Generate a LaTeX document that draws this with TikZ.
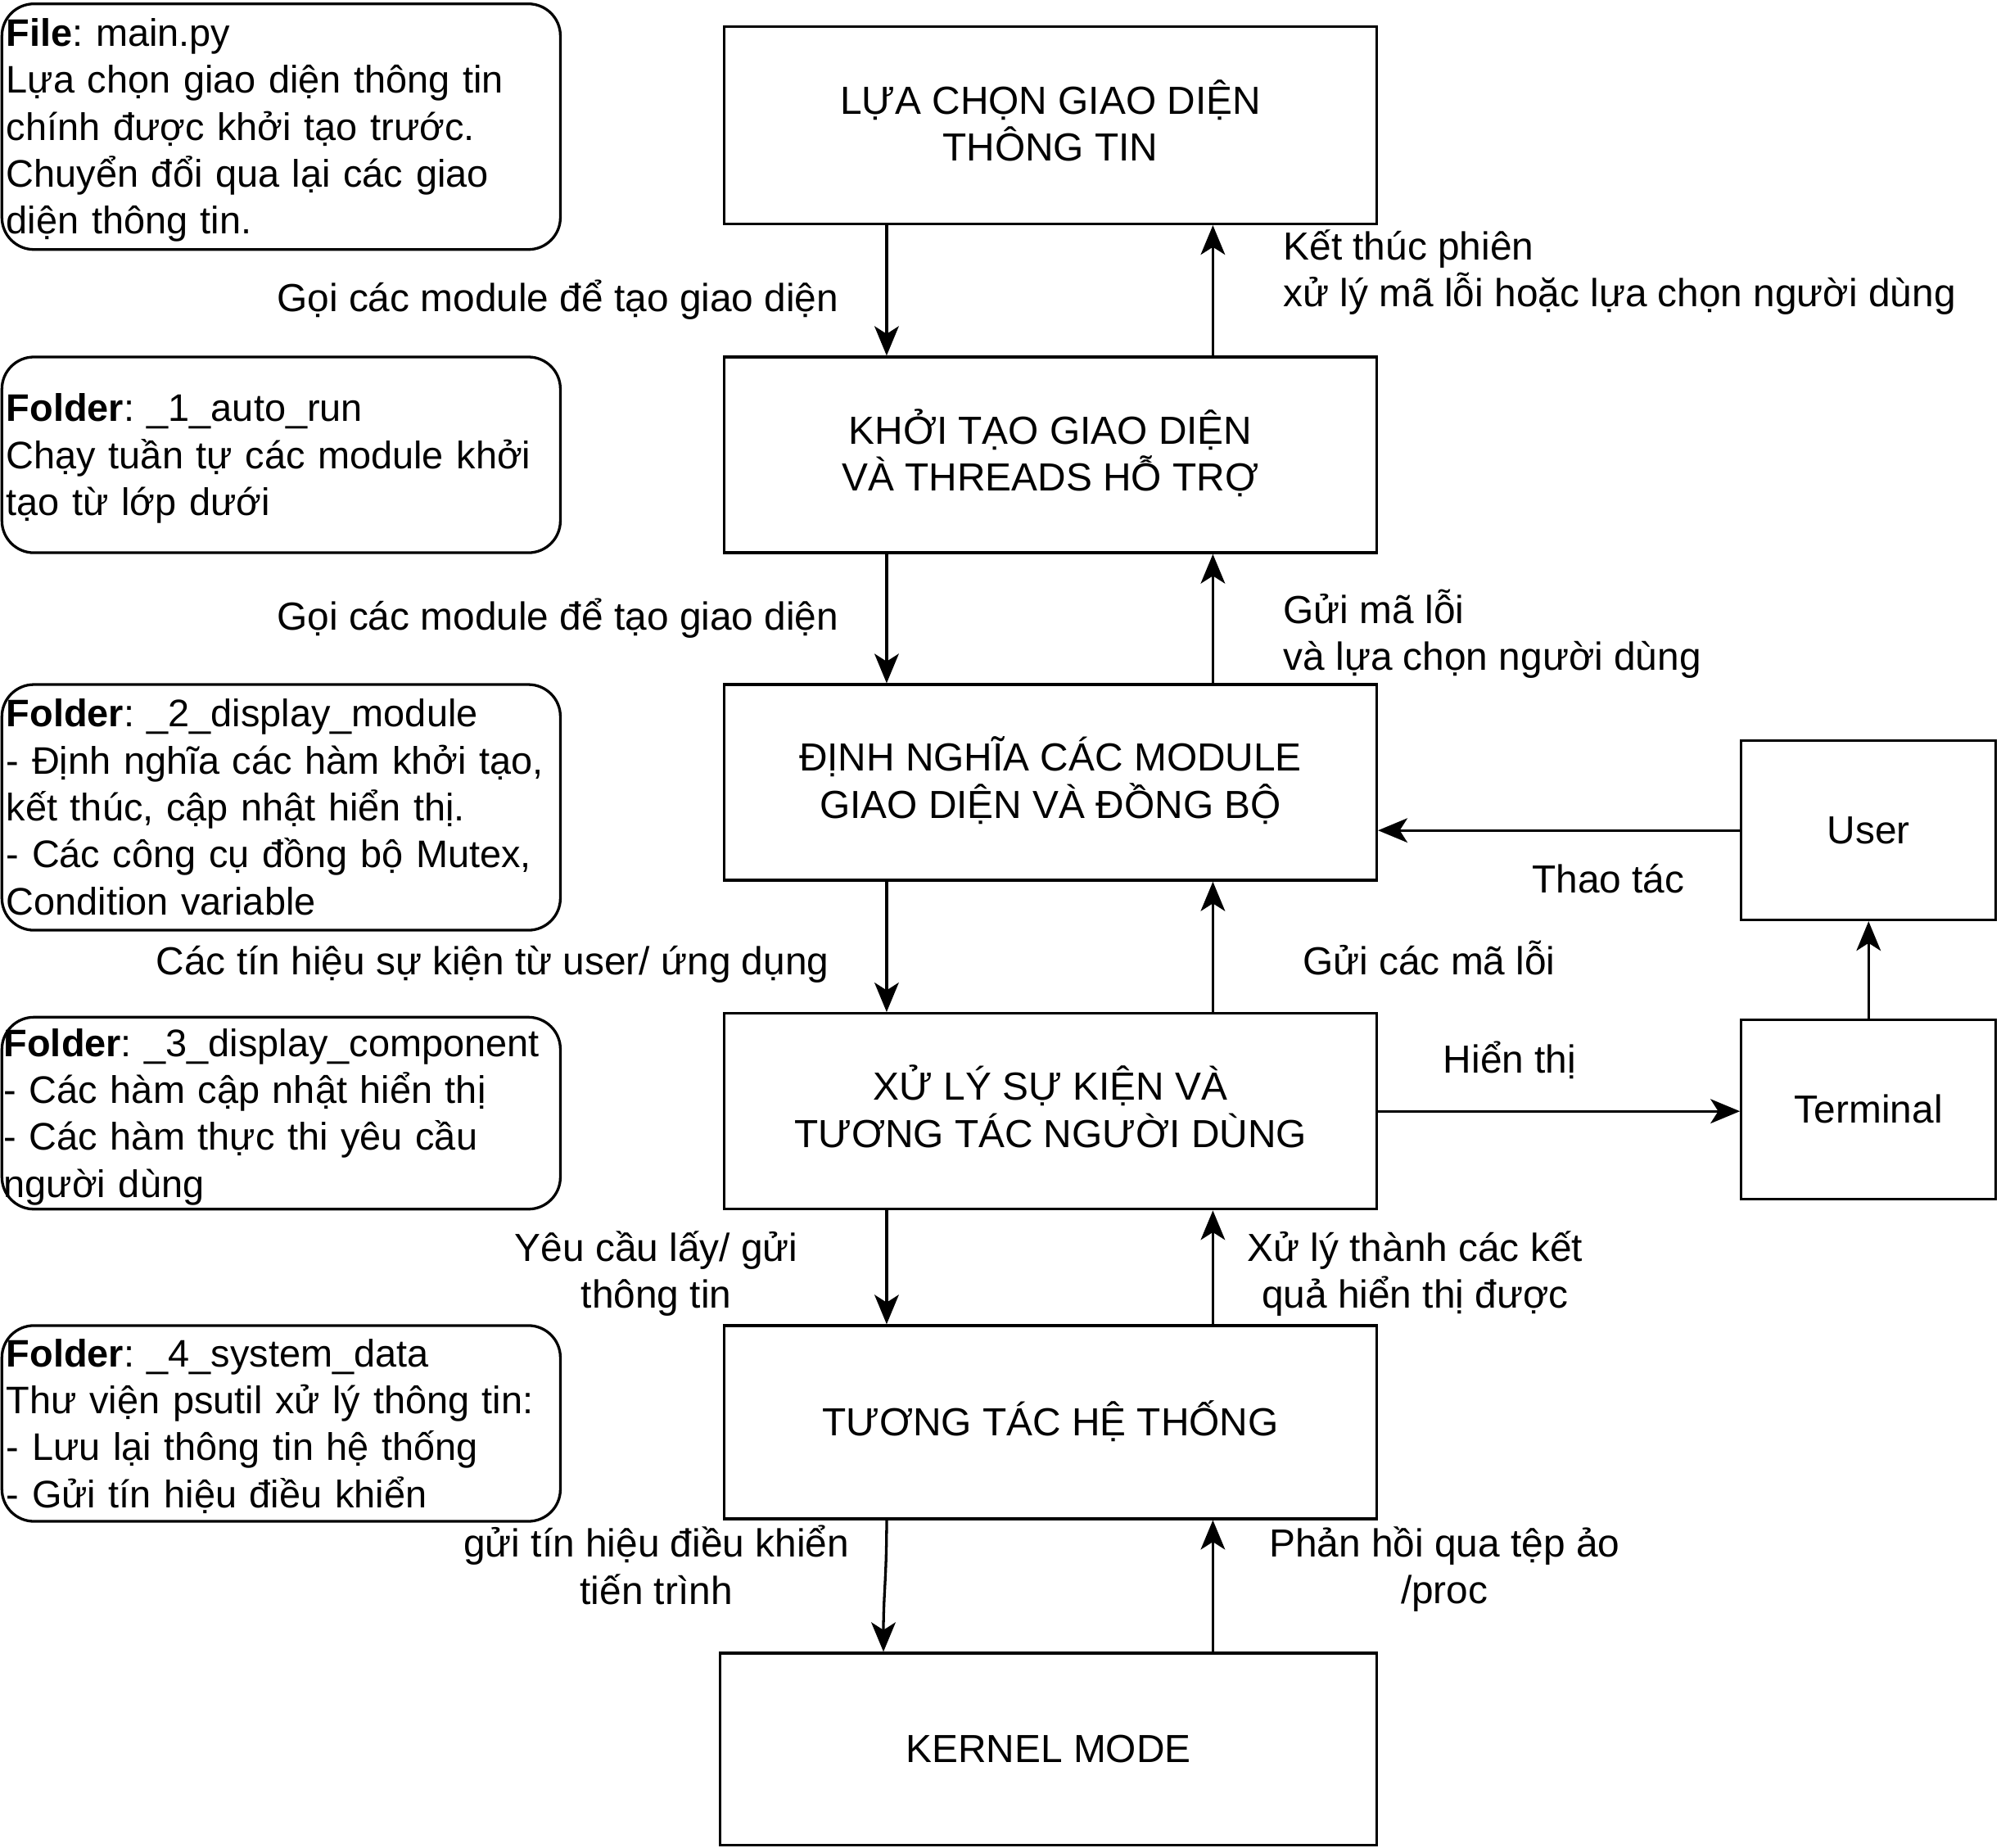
\documentclass[tikz,border=0pt]{standalone}
\usepackage{fontspec}
\setmainfont{Liberation Sans}
\usetikzlibrary{arrows.meta}
\frenchspacing
\hyphenpenalty=10000
\exhyphenpenalty=10000
\newcommand\mystrut{\rule[-7.75pt]{0pt}{36.7pt}}
\tikzset{
  base/.style={font=\fontsize{30.6}{36.7}\selectfont, execute at begin node=\mystrut, execute at end node=\mystrut},
  box/.style={base, draw, line width=2.1pt, minimum width=510pt, align=center, inner sep=0pt},
  note/.style={draw, line width=2.1pt, rounded corners=25pt, minimum width=436.5pt, text width=429.5pt, inner xsep=3.5pt, inner ysep=0pt, align=left,
    font=\fontsize{30}{36.7}\selectfont, execute at begin node=\mystrut, execute at end node=\mystrut},
  lbl/.style={base, align=center, inner sep=0pt},
  lbll/.style={base, align=left, inner sep=0pt, anchor=west},
  arr/.style={line width=2.1pt, -{Stealth[length=23pt,width=19pt,inset=6pt]}}
}
\begin{document}
\begin{tikzpicture}[x=1pt,y=-1pt]
\useasboundingbox (0,0) rectangle (1564,1444);
% notes
\node[note, minimum height=192pt] (n1) at (219.75,99) {\textbf{File}: main.py\\Lựa chọn giao diện thông tin\\chính được khởi tạo trước.\\Chuyển đổi qua lại các giao\\diện thông tin.};
\node[note, minimum height=153pt] (n2) at (219.75,355.5) {\textbf{Folder}: \_1\_auto\_run\\Chạy tuần tự các module khởi\\tạo từ lớp dưới};
\node[note, minimum height=192pt] (n3) at (219.75,631) {\textbf{Folder}: \_2\_display\_module\\- Định nghĩa các hàm khởi tạo,\\kết thúc, cập nhật hiển thị.\\- Các công cụ đồng bộ Mutex,\\Condition variable};
\node[note, minimum height=150pt] (n4) at (219.75,870) {\hspace*{-2pt}\mbox{\textbf{Folder}: \_3\_display\_component}\\\hspace*{-2pt}- Các hàm cập nhật hiển thị\\\hspace*{-2pt}- Các hàm thực thi yêu cầu\\\hspace*{-2pt}người dùng};
\node[note, minimum height=153pt] (n5) at (219.75,1112.5) {\textbf{Folder}: \_4\_system\_data\\Thư viện psutil xử lý thông tin:\\- Lưu lại thông tin hệ thống\\- Gửi tín hiệu điều khiển};
% main boxes
\node[box, minimum height=154pt] (b1) at (821,98) {LỰA CHỌN GIAO DIỆN\\THÔNG TIN};
\node[box, minimum height=153pt] (b2) at (821,355.5) {KHỞI TẠO GIAO DIỆN\\VÀ THREADS HỖ TRỢ};
\node[box, minimum height=153pt] (b3) at (821,611.5) {ĐỊNH NGHĨA CÁC MODULE\\GIAO DIỆN VÀ ĐỒNG BỘ};
\node[box, minimum height=153pt] (b4) at (821,868.5) {XỬ LÝ SỰ KIỆN VÀ\\TƯƠNG TÁC NGƯỜI DÙNG};
\node[box, minimum height=151pt] (b5) at (821,1111.5) {TƯƠNG TÁC HỆ THỐNG};
\node[box, minimum width=513pt, minimum height=150pt] (b6) at (819.5,1367) {KERNEL MODE};
\node[box, minimum width=199pt, minimum height=140pt] (user) at (1460.5,649) {User};
\node[box, minimum width=199pt, minimum height=140pt] (term) at (1460.5,867) {Terminal};
% reference columns
\coordinate (xl) at (693,0);
\coordinate (xk) at (690.5,0);
\coordinate (xr) at (948,0);
% arrows
\draw[arr] (b1.south -| xl) -- (b2.north -| xl);
\draw[arr] (b2.south -| xl) -- (b3.north -| xl);
\draw[arr] (b3.south -| xl) -- (b4.north -| xl);
\draw[arr] (b4.south -| xl) -- (b5.north -| xl);
\draw[arr] (b5.south -| xl) .. controls +(0,45) and +(0,-45) .. (b6.north -| xk);
\draw[arr] (b2.north -| xr) -- (b1.south -| xr);
\draw[arr] (b3.north -| xr) -- (b2.south -| xr);
\draw[arr] (b4.north -| xr) -- (b3.south -| xr);
\draw[arr] (b5.north -| xr) -- (b4.south -| xr);
\draw[arr] (b6.north -| xr) -- (b5.south -| xr);
\draw[arr] (user.west) -- (user.west -| b3.east);
\draw[arr] (b4.east) -- (b4.east -| term.west);
\draw[arr] (term.north) -- (user.south);
% labels
\node[lbl] (l1) at (436,233) {Gọi các module để tạo giao diện};
\node[lbll] (l2) at (1003,213.5) {Kết thúc phiên\\xử lý mã lỗi hoặc lựa chọn người dùng};
\node[lbl] (l3) at (436,482) {Gọi các module để tạo giao diện};
\node[lbll] (l4) at (1003,496) {Gửi mã lỗi\\và lựa chọn người dùng};
\node[lbl] (l5) at (385,751) {Các tín hiệu sự kiện từ user/ ứng dụng};
\node[lbl] (l6) at (1117,751) {Gửi các mã lỗi};
\node[lbl] (l7) at (1257,687) {Thao tác};
\node[lbl] (l8) at (1180,828) {Hiển thị};
\node[lbl] (l9) at (513,996) {Yêu cầu lấy/ gửi\\thông tin};
\node[lbl] (l10) at (1106,996) {Xử lý thành các kết\\quả hiển thị được};
\node[lbl] (l11) at (513,1227) {gửi tín hiệu điều khiển\\tiến trình};
\node[lbl] (l12) at (1129,1227) {Phản hồi qua tệp ảo\\/proc};
\end{tikzpicture}
\end{document}
